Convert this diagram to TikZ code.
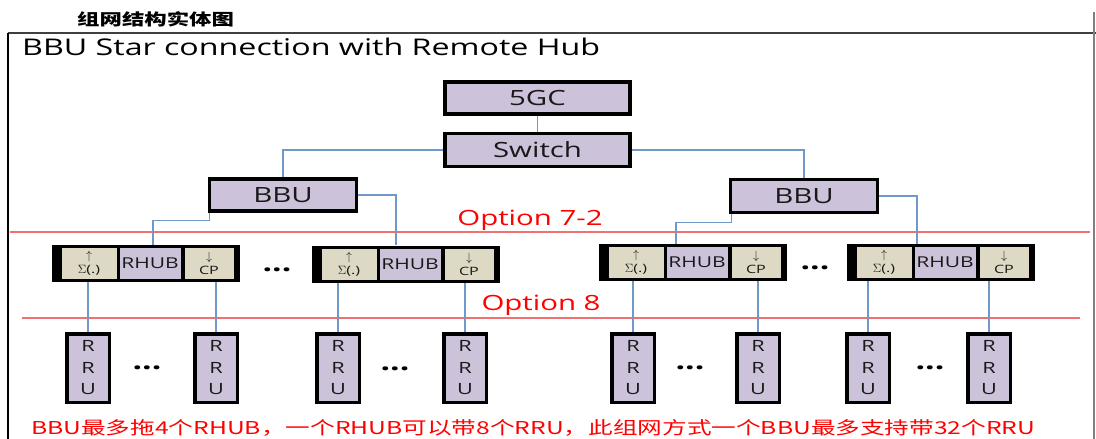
\documentclass[tikz,border=0pt]{standalone}
\usepackage{fontspec}
\usepackage{graphicx}
\setmainfont{Open Sans}[FakeStretch=1.4]
\newfontfamily\cjk{Noto Sans CJK SC}
\newfontfamily\cjkwide{Noto Sans CJK SC}[FakeStretch=1.4]
\usetikzlibrary{
    calc,
    positioning
}
\definecolor{boxlilac}{RGB}{204,194,218}
\definecolor{cellbeige}{RGB}{221,217,196}
\definecolor{linkblue}{RGB}{112,152,200}
\definecolor{optred}{RGB}{242,112,112}
\newcommand{\cellarrow}[1]{{\fontsize{13}{13}\selectfont$#1$}}
\tikzset{
    unit/.style={draw=black, line width=3.5pt, fill=boxlilac, inner sep=0pt, text=black!90, font=\fontsize{21}{24}\selectfont},
    hubframe/.style={fill=black, minimum width=188pt, minimum height=37pt, inner sep=0pt},
    cell/.style={minimum height=31pt, inner sep=0pt, align=center, text=black!90},
    sumcell/.style={cell, fill=cellbeige, minimum width=55pt, font=\fontsize{11.5}{12}\selectfont},
    cpcell/.style={cell, fill=cellbeige, minimum width=49pt, font=\fontsize{11.5}{12}\selectfont},
    hubcell/.style={cell, fill=boxlilac, minimum width=61pt, font=\fontsize{15}{17}\selectfont},
    rru/.style={draw=black, line width=3.5pt, fill=boxlilac, minimum width=42.5pt, minimum height=68.5pt, inner sep=0pt, align=center, text=black!90, font=\fontsize{15.5}{21.5}\selectfont},
    link/.style={draw=linkblue, line width=1.2pt},
    optline/.style={draw=optred, line width=1.2pt},
    opttext/.style={text=red, font=\fontsize{21}{24}\selectfont, inner sep=0pt},
    gapdots/.style={font=\bfseries\fontsize{24}{24}\selectfont, inner sep=0pt}
}

\begin{document}
\begin{tikzpicture}[x=1pt, y=-1pt]
    \useasboundingbox (0,0) rectangle (1096,439);

    % frame and headings
    \draw[line width=2pt, black!75] (8,33) -- (1096,33);
    \draw[line width=2pt] (8,33) -- (8,439);
    \draw[line width=1.5pt, black!50] (1094,12) -- (1094,439);
    \node[anchor=base west, inner sep=0pt, font={\cjkwide\bfseries\fontsize{16}{16}\selectfont}] (head) at (77,25) {组网结构实体图};
    \node[anchor=base west, inner sep=0pt, font=\fontsize{23}{26}\selectfont] (caption) at (22,55) {BBU Star connection with Remote Hub};

    % core side
    \node[unit, minimum width=185pt, minimum height=32pt] (core) at (537.5,98) {5GC};
    \node[unit, minimum width=185pt, minimum height=33pt] (switch) at (537.5,150) {Switch};
    \node[unit, minimum width=147pt, minimum height=32pt] (bbuL) at (283,195) {BBU};
    \node[unit, minimum width=147pt, minimum height=33pt] (bbuR) at (804,196) {BBU};

    % split lines
    \draw[optline] (10,232) -- (1090,232);
    \draw[optline] (22,318) -- (1080,318);
    \node[opttext, anchor=base] (opt72) at (530,225) {Option 7-2};
    \node[opttext, anchor=base] (opt8) at (541,310) {Option 8};

    % remote hubs
    \foreach \n/\x/\y in {1/146/263.5, 2/406/264, 3/693/262.5, 4/941/262.5} {
        \node[hubframe] (hub\n) at (\x,\y) {};
        \node[sumcell] (sum\n) at (\x-57,\y) {\cellarrow{\uparrow}\\[2pt]$\Sigma$(.)};
        \node[hubcell] (rhub\n) at (\x+4,\y) {RHUB};
        \node[cpcell] (cp\n) at (\x+63,\y) {\cellarrow{\downarrow}\\[2pt]CP};
    }
    \node[gapdots] (hubgap1) at (277,270) {...};
    \node[gapdots] (hubgap2) at (815,268) {...};

    % radio units
    \foreach \n/\x in {1/88, 2/216, 3/338, 4/465, 5/633, 6/758, 7/868, 8/989}
        \node[rru] (rru\n) at (\x,368) {R\\R\\U};
    \node[gapdots] (rrugap1) at (147,368) {...};
    \node[gapdots] (rrugap2) at (395,369) {...};
    \node[gapdots] (rrugap3) at (690,368) {...};
    \node[gapdots] (rrugap4) at (930,368) {...};

    % links
    \draw[link] (core) -- (switch);
    \draw[link] (switch.west) -| (bbuL.north);
    \draw[link] (switch.east) -| (bbuR.north);
    \draw[link] ([xshift=2pt]bbuL.south west) -- ++(0,8) -| ([xshift=7pt]hub1.north);
    \draw[link] (bbuL.east) -| ([xshift=-10pt]hub2.north);
    \draw[link] ([xshift=3pt]bbuR.south west) -- ++(0,8) -| ([xshift=-17pt]hub3.north);
    \draw[link] (bbuR.east) -| ([xshift=-24pt]hub4.north);
    \foreach \h/\a/\b in {1/1/2, 2/3/4, 3/5/6, 4/7/8} {
        \draw[link] (hub\h.south -| rru\a.north) -- (rru\a.north);
        \draw[link] (hub\h.south -| rru\b.north) -- (rru\b.north);
    }

    \node[anchor=west, inner sep=0pt, text=red] (note) at (31,428) {\resizebox{1004pt}{15pt}{\cjk BBU最多拖4个RHUB，一个RHUB可以带8个RRU，此组网方式一个BBU最多支持带32个RRU}};
\end{tikzpicture}
\end{document}
